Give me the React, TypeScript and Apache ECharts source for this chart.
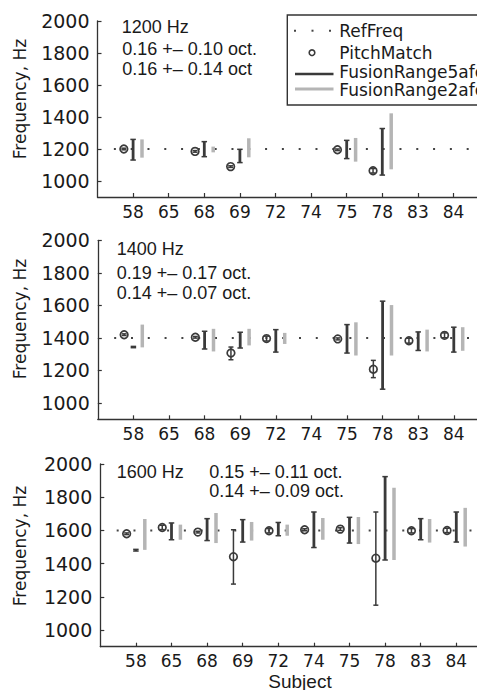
import React, { useEffect, useRef } from "react";
import * as echarts from "echarts";

const subjects = ["58", "65", "68", "69", "72", "74", "75", "78", "83", "84"];
const refFreqs = [1200, 1400, 1600];
const yTickValues = [1000, 1200, 1400, 1600, 1800, 2000];
const xTickValues = [1, 2, 3, 4, 5, 6, 7, 8, 9, 10];

// 1200 Hz panel
const pitch1200 = [1200, null, 1185, 1090, null, null, 1195, 1064, null, null];
const pitchLo1200 = [1195, null, 1180, 1085, null, null, 1190, 1050, null, null];
const pitchHi1200 = [1205, null, 1190, 1095, null, null, 1200, 1078, null, null];
const afc5Lo1200 = [1131, null, 1152, 1115, null, null, 1140, 1037, null, null];
const afc5Hi1200 = [1260, null, 1246, 1198, null, null, 1254, 1328, null, null];
const afc2Lo1200 = [1146, null, 1179, 1148, null, null, 1121, 1073, null, null];
const afc2Hi1200 = [1260, null, 1215, 1267, null, null, 1269, 1423, null, null];

// 1400 Hz panel
const pitch1400 = [1420, null, 1404, 1307, 1396, null, 1394, 1208, 1383, 1416];
const pitchLo1400 = [1415, null, 1399, 1266, 1381, null, 1388, 1156, 1368, 1401];
const pitchHi1400 = [1425, null, 1409, 1344, 1411, null, 1400, 1262, 1398, 1431];
const afc5Lo1400 = [1340, null, 1332, 1338, 1313, null, 1307, 1085, 1323, 1313];
const afc5Hi1400 = [1348, null, 1441, 1435, 1451, null, 1482, 1626, 1437, 1466];
const afc2Lo1400 = [1342, null, 1317, 1354, 1363, null, 1292, 1292, 1317, 1321];
const afc2Hi1400 = [1482, null, 1456, 1456, 1431, null, 1496, 1602, 1451, 1466];

// 1600 Hz panel
const pitch1600 = [1580, 1618, 1590, 1442, 1598, 1604, 1608, 1433, 1598, 1600];
const pitchLo1600 = [1575, 1605, 1585, 1277, 1585, 1598, 1600, 1150, 1585, 1587];
const pitchHi1600 = [1585, 1631, 1595, 1604, 1611, 1610, 1616, 1711, 1611, 1613];
const afc5Lo1600 = [1476, 1544, 1539, 1530, 1568, 1497, 1524, 1422, 1544, 1530];
const afc5Hi1600 = [1486, 1645, 1671, 1665, 1648, 1711, 1679, 1924, 1671, 1711];
const afc2Lo1600 = [1483, 1544, 1524, 1539, 1568, 1544, 1518, 1422, 1527, 1503];
const afc2Hi1600 = [1669, 1635, 1705, 1651, 1635, 1675, 1681, 1857, 1669, 1736];

const panelTitles = ["1200 Hz", "1400 Hz", "1600 Hz"];
const statsLine1 = ["0.16 +\u2013 0.10 oct.", "0.19 +\u2013 0.17 oct.", "0.15 +\u2013 0.11 oct."];
const statsLine2 = ["0.16 +\u2013 0.14 oct", "0.14 +\u2013 0.07 oct.", "0.14 +\u2013 0.09 oct."];
const legendNames = ["RefFreq", "PitchMatch", "FusionRange5afc", "FusionRange2afc"];

const panels = [
  { pitch: pitch1200, pLo: pitchLo1200, pHi: pitchHi1200, a5Lo: afc5Lo1200, a5Hi: afc5Hi1200, a2Lo: afc2Lo1200, a2Hi: afc2Hi1200 },
  { pitch: pitch1400, pLo: pitchLo1400, pHi: pitchHi1400, a5Lo: afc5Lo1400, a5Hi: afc5Hi1400, a2Lo: afc2Lo1400, a2Hi: afc2Hi1400 },
  { pitch: pitch1600, pLo: pitchLo1600, pHi: pitchHi1600, a5Lo: afc5Lo1600, a5Hi: afc5Hi1600, a2Lo: afc2Lo1600, a2Hi: afc2Hi1600 },
];

const grids = [
  { left: 97.5, top: 21, width: 391.6, height: 176 },
  { left: 97.8, top: 240.3, width: 391.6, height: 179 },
  { left: 100.3, top: 464, width: 391.6, height: 182.7 },
];

const DARK = "#3a3a3a";
const GRAY = "#b5b5b5";
const AXIS = "#333";
const TXT = "#1a1a1a";

function rangeRender(color: string, width: number, capW: number) {
  return (params: any, api: any) => {
    const x = api.value(0);
    const p1 = api.coord([x, api.value(1)]);
    const p2 = api.coord([x, api.value(2)]);
    const children: any[] = [
      { type: "line", shape: { x1: p1[0], y1: p1[1], x2: p2[0], y2: p2[1] }, style: { stroke: color, lineWidth: width } },
    ];
    if (capW > 0) {
      [p1, p2].forEach((p) =>
        children.push({
          type: "line",
          shape: { x1: p[0] - capW / 2, y1: p[1], x2: p[0] + capW / 2, y2: p[1] },
          style: { stroke: color, lineWidth: 1.5 },
        })
      );
    }
    return { type: "group", children };
  };
}

function pitchRender(params: any, api: any) {
  const x = api.value(0);
  const c = api.coord([x, api.value(1)]);
  const lo = api.coord([x, api.value(2)]);
  const hi = api.coord([x, api.value(3)]);
  const capW = 5;
  return {
    type: "group",
    children: [
      { type: "line", shape: { x1: lo[0], y1: lo[1], x2: hi[0], y2: hi[1] }, style: { stroke: DARK, lineWidth: 1.5 } },
      { type: "line", shape: { x1: lo[0] - capW / 2, y1: lo[1], x2: lo[0] + capW / 2, y2: lo[1] }, style: { stroke: DARK, lineWidth: 1.5 } },
      { type: "line", shape: { x1: hi[0] - capW / 2, y1: hi[1], x2: hi[0] + capW / 2, y2: hi[1] }, style: { stroke: DARK, lineWidth: 1.5 } },
      { type: "circle", shape: { cx: c[0], cy: c[1], r: 3.8 }, style: { stroke: DARK, lineWidth: 1.7, fill: "none" } },
    ],
  };
}

export default function App() {
  const ref = useRef<HTMLDivElement>(null);
  useEffect(() => {
    if (!ref.current) return;
    const chart = echarts.init(ref.current, null, { renderer: "svg" });

    const xAxes = grids.map((_, i) => ({
      type: "value",
      gridIndex: i,
      min: 0,
      max: 11,
      splitLine: { show: false },
      axisLine: { show: true, lineStyle: { color: AXIS, width: 1.3 } },
      axisTick: { show: true, inside: true, length: 4, customValues: xTickValues, lineStyle: { color: AXIS, width: 1.2 } },
      axisLabel: {
        show: true,
        customValues: xTickValues,
        margin: 6,
        fontFamily: "DejaVu Sans",
        fontSize: 17,
        color: TXT,
        formatter: (v: number) => subjects[Math.round(v) - 1] ?? "",
      },
    }));
    const yAxes = grids.map((_, i) => ({
      type: "value",
      gridIndex: i,
      min: 900,
      max: 2000,
      splitLine: { show: false },
      axisLine: { show: true, lineStyle: { color: AXIS, width: 1.3 } },
      axisTick: { show: true, inside: true, length: 4, customValues: yTickValues, lineStyle: { color: AXIS, width: 1.2 } },
      axisLabel: {
        show: true,
        customValues: yTickValues,
        margin: 8,
        fontFamily: "DejaVu Sans",
        fontSize: 19,
        color: TXT,
        formatter: (v: number) => String(Math.round(v)),
      },
    }));

    const series: any[] = [];
    panels.forEach((p, i) => {
      series.push({
        type: "line",
        xAxisIndex: i,
        yAxisIndex: i,
        data: [
          [0.46, refFreqs[i]],
          [11, refFreqs[i]],
        ],
        symbol: "none",
        lineStyle: { color: "#444", width: 2, type: [2, 14.8] },
        z: 1,
      });
      series.push({
        type: "custom",
        xAxisIndex: i,
        yAxisIndex: i,
        renderItem: rangeRender(GRAY, 3.5, 0),
        encode: { x: 0, y: [1, 2] },
        data: subjects
          .map((_, k) => (p.a2Lo[k] == null ? null : [k + 1 + 0.25, p.a2Lo[k], p.a2Hi[k]]))
          .filter(Boolean),
        z: 2,
      });
      series.push({
        type: "custom",
        xAxisIndex: i,
        yAxisIndex: i,
        renderItem: rangeRender(DARK, 2.8, 5.5),
        encode: { x: 0, y: [1, 2] },
        data: subjects
          .map((_, k) => (p.a5Lo[k] == null ? null : [k + 1, p.a5Lo[k], p.a5Hi[k]]))
          .filter(Boolean),
        z: 3,
      });
      series.push({
        type: "custom",
        xAxisIndex: i,
        yAxisIndex: i,
        renderItem: pitchRender,
        encode: { x: 0, y: [1, 2, 3] },
        data: subjects
          .map((_, k) => (p.pitch[k] == null ? null : [k + 1 - 0.26, p.pitch[k], p.pLo[k], p.pHi[k]]))
          .filter(Boolean),
        z: 4,
      });
    });

    const ann = (text: string, x: number, y: number, size = 18, family = "Liberation Sans") => ({
      type: "text",
      x,
      y,
      style: { text, fill: TXT, font: `${size}px "${family}"`, textAlign: "left", textVerticalAlign: "middle" },
      z: 20,
    });

    const yTitleCenters = [99, 319, 546];
    const graphics: any[] = [];
    yTitleCenters.forEach((cy) =>
      graphics.push({
        type: "text",
        x: 20,
        y: cy,
        rotation: Math.PI / 2,
        style: { text: "Frequency, Hz", fill: TXT, font: '17px "DejaVu Sans"', textAlign: "center", textVerticalAlign: "middle" },
        z: 20,
      })
    );
    graphics.push(ann(panelTitles[0], 121.7, 26.5));
    graphics.push(ann(statsLine1[0], 122.3, 49));
    graphics.push(ann(statsLine2[0], 122.3, 68.5));
    graphics.push(ann(panelTitles[1], 116.7, 249));
    graphics.push(ann(statsLine1[1], 116.7, 272.7));
    graphics.push(ann(statsLine2[1], 116.7, 293.3));
    graphics.push(ann(panelTitles[2], 116.7, 471.7));
    graphics.push(ann(statsLine1[2], 209.3, 471.7));
    graphics.push(ann(statsLine2[2], 209.3, 491));
    graphics.push({
      type: "text",
      x: 300,
      y: 681,
      style: { text: "Subject", fill: TXT, font: '19px "Liberation Sans"', textAlign: "center", textVerticalAlign: "middle" },
      z: 20,
    });
    graphics.push({
      type: "rect",
      shape: { x: 287.3, y: 15, width: 230, height: 90 },
      style: { fill: "#fff", stroke: AXIS, lineWidth: 1.4 },
      z: 30,
    });
    [295, 312.5, 330].forEach((dx) =>
      graphics.push({ type: "rect", shape: { x: dx - 1, y: 29.7, width: 2, height: 2 }, style: { fill: "#444" }, z: 31 })
    );
    graphics.push({
      type: "circle",
      shape: { cx: 312, cy: 52.7, r: 2.8 },
      style: { stroke: DARK, lineWidth: 1.6, fill: "none" },
      z: 31,
    });
    graphics.push({ type: "line", shape: { x1: 295, y1: 74, x2: 333.5, y2: 74 }, style: { stroke: DARK, lineWidth: 2.6 }, z: 31 });
    graphics.push({ type: "line", shape: { x1: 295, y1: 89, x2: 333.5, y2: 89 }, style: { stroke: GRAY, lineWidth: 3.2 }, z: 31 });
    const legYs = [30.7, 52.5, 72.3, 89.5];
    legendNames.forEach((n, k) => graphics.push({ ...ann(n, 339.3, legYs[k], 17, "DejaVu Sans"), z: 32 }));

    chart.setOption({
      animation: false,
      backgroundColor: "#fff",
      grid: grids.map((g) => ({ ...g, containLabel: false, outerBoundsMode: "none" })),
      xAxis: xAxes,
      yAxis: yAxes,
      series,
      graphic: graphics,
    });
    return () => chart.dispose();
  }, []);
  return (
    <div
      ref={ref}
      style={{ position: "fixed", left: 0, top: 0, width: 477, height: 690, background: "#fff" }}
    />
  );
}
